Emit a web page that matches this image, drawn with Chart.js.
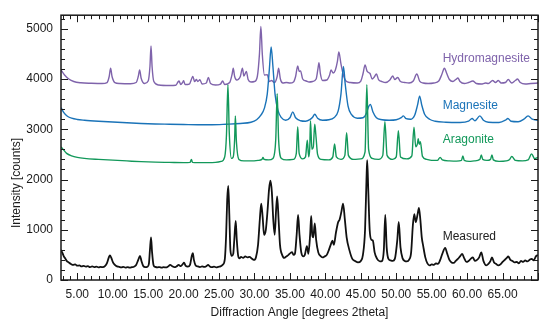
<!DOCTYPE html>
<html>
<head>
<meta charset="utf-8">
<script src="https://cdn.jsdelivr.net/npm/chart.js@4.4.1/dist/chart.umd.min.js"></script>
<style>
    body { margin: 0; background: #fff; }
    canvas { display: block; }
</style>
</head>
<body>
<canvas id="xrd" width="550" height="326"></canvas>
<script>
// Axis ticks
const xTicks = [5, 10, 15, 20, 25, 30, 35, 40, 45, 50, 55, 60, 65];
const yTicks = [0, 1000, 2000, 3000, 4000, 5000];

// Hydromagnesite reference pattern (2theta, counts)
const hydroX = [2.7, 3.2, 3.8, 4.5, 5.5, 7, 8.5, 9.2, 9.5, 9.7, 9.9, 10.3, 11, 12.5, 13.3, 13.6, 13.8, 14.0, 14.5, 15.0, 15.25, 15.4, 15.55, 15.8, 16.5, 18, 18.9, 19.2, 19.35, 19.6, 19.85, 20.0, 20.2, 20.8, 21.2, 21.3, 21.55, 21.8, 22.0, 22.3, 22.6, 23.2, 23.5, 23.8, 24.5, 25.2, 25.5, 25.8, 26.5, 26.85, 27.0, 27.2, 27.5, 27.7, 28.0, 28.3, 28.5, 28.85, 29.1, 29.5, 30.0, 30.4, 30.7, 30.9, 31.1, 31.4, 31.8, 32.1, 32.4, 32.8, 33.2, 33.4, 33.65, 34, 34.5, 35.0, 35.5, 35.8, 36.1, 36.3, 36.5, 36.8, 37.3, 37.7, 38.2, 38.7, 38.95, 39.1, 39.3, 39.6, 40.2, 40.6, 40.8, 41.1, 41.4, 41.7, 41.9, 42.2, 42.5, 42.9, 43.5, 44.5, 45.0, 45.3, 45.6, 45.9, 46.3, 46.6, 46.9, 47.2, 47.5, 48, 48.5, 49.1, 49.5, 49.8, 50.2, 50.6, 51.2, 51.8, 52.4, 52.9, 53.3, 53.8, 54.5, 55.3, 56.0, 56.4, 56.8, 57.1, 57.5, 58.0, 58.4, 58.7, 59.0, 59.6, 60.2, 60.8, 61.3, 62.0, 62.6, 63.0, 63.6, 64.0, 64.4, 64.8, 65.4, 65.8, 66.3, 66.8, 67.1, 67.5, 68.2, 69.0, 70.0];
const hydroY = [4180, 4080, 4000, 3950, 3925, 3915, 3910, 3930, 4050, 4215, 4050, 3930, 3910, 3905, 3930, 4050, 4180, 4020, 3910, 3960, 4250, 4660, 4250, 3950, 3880, 3870, 3875, 3940, 3960, 3890, 3930, 3965, 3890, 3900, 4030, 4050, 3950, 3990, 3950, 3985, 3900, 3920, 4030, 3910, 3880, 3900, 3960, 3890, 3930, 4100, 4215, 4050, 3980, 3990, 4050, 4215, 4060, 4150, 3990, 3940, 3950, 4050, 4500, 5045, 4500, 4080, 4085, 3950, 3970, 3930, 4050, 4215, 4000, 3920, 3930, 3920, 3940, 4050, 4260, 4150, 4160, 4000, 3960, 3940, 3950, 4000, 4200, 4325, 4100, 3970, 3980, 4080, 4180, 4120, 4175, 4350, 4540, 4300, 4100, 3960, 3930, 3920, 3960, 4100, 4280, 4150, 4110, 4000, 4040, 4100, 3990, 3950, 3930, 3980, 4060, 3990, 4030, 3950, 3930, 3920, 3960, 4100, 3960, 3920, 3910, 3920, 3960, 4080, 4215, 4120, 3990, 3950, 3990, 4020, 3950, 3910, 3930, 3960, 3910, 3900, 3920, 3910, 3970, 3930, 3970, 3920, 3930, 3990, 3920, 3970, 4000, 3930, 3900, 3910, 3920];

// Magnesite reference pattern
const magX = [2.7, 3.1, 3.6, 4.2, 5, 6, 8, 10, 12, 14, 16, 18, 20, 22, 24, 26, 28, 29.5, 30.3, 30.9, 31.4, 31.8, 32.1, 32.35, 32.6, 32.9, 33.3, 33.8, 34.4, 35.0, 35.4, 35.8, 36.5, 37.2, 37.8, 38.2, 38.5, 38.9, 39.6, 40.5, 41.2, 41.8, 42.2, 42.55, 42.8, 43.2, 43.7, 44.5, 45.3, 45.8, 46.1, 46.35, 46.7, 47.2, 48, 49, 50, 50.7, 51.0, 51.4, 52.0, 52.6, 53.0, 53.3, 53.6, 54.0, 54.7, 55.5, 57, 59, 60.2, 60.7, 61.1, 61.8, 62.3, 63, 64.5, 65.4, 65.75, 66.2, 67.2, 68.0, 68.6, 69.2, 70];
const magY = [3430, 3330, 3260, 3220, 3195, 3180, 3160, 3145, 3130, 3115, 3105, 3100, 3095, 3090, 3090, 3100, 3115, 3140, 3190, 3280, 3420, 3700, 4200, 4640, 4250, 3700, 3380, 3230, 3180, 3230, 3345, 3230, 3170, 3160, 3190, 3240, 3300, 3220, 3180, 3190, 3230, 3360, 3700, 4250, 3900, 3460, 3290, 3220, 3230, 3320, 3450, 3495, 3350, 3230, 3190, 3180, 3190, 3230, 3267, 3210, 3200, 3280, 3480, 3660, 3480, 3300, 3200, 3160, 3140, 3135, 3160, 3215, 3170, 3267, 3180, 3140, 3135, 3180, 3215, 3160, 3150, 3200, 3267, 3200, 3180];

// Aragonite reference pattern
const aragX = [2.7, 3.0, 3.5, 4.2, 5, 6, 8, 10, 12, 14, 16, 18, 20, 20.9, 21.1, 21.25, 22, 23.5, 24.5, 25.3, 25.8, 26.05, 26.25, 26.45, 26.75, 27.0, 27.2, 27.3, 27.45, 27.8, 28.5, 29.5, 30.5, 31.05, 31.2, 31.35, 32.0, 32.6, 33.0, 33.2, 33.4, 33.8, 34.5, 35.5, 35.9, 36.1, 36.3, 36.8, 37.2, 37.45, 37.65, 37.8, 37.9, 38.1, 38.3, 38.5, 38.65, 38.9, 39.4, 40.5, 41.05, 41.3, 41.55, 42.2, 42.75, 43.0, 43.25, 44.0, 45.0, 45.6, 45.85, 46.1, 46.6, 47.5, 48.1, 48.4, 48.7, 49.5, 50.0, 50.3, 50.6, 51.5, 52.2, 52.5, 52.75, 53.0, 53.1, 53.25, 53.4, 53.7, 54.3, 55.0, 55.8, 56.2, 56.5, 57.5, 58.5, 59.2, 59.4, 59.6, 60.3, 61.0, 61.8, 62.0, 62.2, 62.8, 63.3, 63.5, 63.7, 64.5, 65.5, 66.0, 66.3, 66.8, 67.8, 68.6, 69.1, 69.5, 70];
const aragY = [2650, 2600, 2520, 2470, 2440, 2420, 2400, 2385, 2370, 2355, 2345, 2340, 2335, 2340, 2400, 2340, 2335, 2335, 2340, 2360, 2450, 2900, 3887, 2900, 2420, 2450, 2800, 3267, 2750, 2400, 2370, 2370, 2380, 2400, 2440, 2400, 2390, 2420, 2800, 3710, 2800, 2420, 2390, 2400, 2520, 3050, 2520, 2410, 2450, 2780, 2450, 2650, 3170, 2600, 2650, 3100, 2900, 2500, 2400, 2390, 2450, 2710, 2450, 2400, 2480, 2930, 2480, 2400, 2410, 2550, 3887, 2600, 2420, 2400, 2480, 3150, 2480, 2400, 2450, 2970, 2450, 2410, 2470, 3040, 2650, 2720, 2810, 2700, 2750, 2460, 2400, 2380, 2380, 2440, 2390, 2370, 2365, 2380, 2470, 2380, 2360, 2370, 2400, 2490, 2400, 2380, 2400, 2490, 2390, 2360, 2370, 2400, 2460, 2380, 2370, 2390, 2510, 2420, 2440];

// Measured sample pattern
const measX = [2.7, 2.9, 3.1, 3.3, 3.5, 3.8, 4.1, 4.4, 4.7, 5.0, 5.3, 5.6, 5.9, 6.2, 6.5, 6.8, 7.1, 7.4, 7.7, 8.0, 8.3, 8.6, 8.9, 9.2, 9.45, 9.6, 9.8, 10.0, 10.3, 10.6, 10.9, 11.2, 11.5, 11.8, 12.1, 12.4, 12.7, 13.0, 13.3, 13.6, 13.85, 14.05, 14.3, 14.6, 14.9, 15.1, 15.25, 15.4, 15.55, 15.75, 16.0, 16.3, 16.6, 16.9, 17.2, 17.5, 17.8, 18.1, 18.4, 18.7, 19.0, 19.3, 19.6, 19.9, 20.05, 20.3, 20.6, 20.9, 21.15, 21.3, 21.45, 21.7, 22.0, 22.3, 22.6, 22.9, 23.2, 23.45, 23.7, 24.0, 24.3, 24.6, 24.9, 25.2, 25.5, 25.8, 26.0, 26.15, 26.3, 26.45, 26.6, 26.8, 27.0, 27.15, 27.35, 27.5, 27.7, 27.9, 28.1, 28.4, 28.7, 29.0, 29.3, 29.6, 29.9, 30.2, 30.5, 30.75, 30.95, 31.15, 31.35, 31.6, 31.85, 32.05, 32.25, 32.45, 32.65, 32.85, 33.05, 33.2, 33.4, 33.6, 33.9, 34.2, 34.5, 34.8, 35.1, 35.3, 35.5, 35.7, 35.95, 36.15, 36.35, 36.6, 36.9, 37.1, 37.4, 37.6, 37.85, 38.0, 38.15, 38.3, 38.5, 38.7, 39.0, 39.3, 39.6, 39.9, 40.2, 40.5, 40.8, 41.0, 41.2, 41.5, 41.8, 42.0, 42.25, 42.5, 42.75, 43.0, 43.4, 43.8, 44.2, 44.6, 45.0, 45.3, 45.6, 45.8, 45.9, 46.05, 46.25, 46.5, 46.7, 46.95, 47.3, 47.7, 48.0, 48.25, 48.45, 48.65, 48.9, 49.2, 49.5, 49.8, 50.15, 50.35, 50.6, 50.9, 51.2, 51.5, 51.8, 52.1, 52.35, 52.55, 52.75, 53.0, 53.2, 53.4, 53.6, 53.8, 54.1, 54.4, 54.7, 55.0, 55.3, 55.6, 55.9, 56.2, 56.5, 56.9, 57.2, 57.5, 57.8, 58.1, 58.4, 58.7, 59.0, 59.3, 59.6, 59.9, 60.2, 60.5, 60.8, 61.1, 61.4, 61.7, 62.0, 62.3, 62.7, 63.0, 63.3, 63.5, 63.8, 64.1, 64.4, 64.7, 65.0, 65.3, 65.6, 65.8, 66.1, 66.4, 66.7, 67.0, 67.3, 67.6, 67.9, 68.2, 68.5, 68.8, 69.1, 69.4, 69.7, 70.0];
const measY = [600, 540, 470, 430, 380, 350, 320, 300, 310, 285, 290, 270, 280, 265, 275, 255, 270, 255, 265, 250, 262, 255, 275, 340, 450, 490, 440, 360, 300, 270, 262, 250, 262, 248, 258, 245, 255, 265, 300, 400, 480, 380, 280, 255, 265, 320, 600, 850, 550, 300, 260, 250, 258, 245, 255, 250, 268, 300, 275, 255, 270, 300, 275, 320, 345, 280, 265, 300, 480, 535, 400, 290, 270, 258, 270, 260, 275, 300, 270, 255, 265, 250, 262, 270, 300, 400, 900, 1600, 1875, 1300, 600, 480, 520, 800, 1176, 800, 480, 430, 460, 440, 470, 450, 460, 430, 400, 450, 700, 1200, 1520, 1250, 900, 1000, 1400, 1800, 1975, 1750, 1200, 900, 1400, 1665, 1200, 700, 500, 440, 470, 500, 540, 555, 500, 520, 900, 1295, 900, 550, 470, 500, 675, 520, 900, 1275, 900, 850, 1125, 800, 550, 480, 450, 470, 500, 600, 720, 785, 700, 950, 1150, 1200, 1350, 1520, 1200, 850, 590, 420, 380, 350, 380, 500, 1000, 2000, 2385, 1800, 1000, 800, 785, 550, 420, 370, 380, 600, 1295, 650, 420, 390, 380, 420, 800, 1155, 650, 430, 380, 370, 400, 550, 1100, 1310, 1150, 1300, 1435, 1200, 850, 680, 450, 330, 290, 310, 300, 330, 320, 400, 520, 640, 520, 400, 350, 340, 380, 420, 470, 520, 430, 360, 380, 420, 450, 380, 400, 450, 550, 380, 290, 320, 380, 450, 350, 320, 290, 310, 360, 400, 440, 470, 400, 380, 350, 360, 330, 380, 360, 390, 370, 400, 420, 390, 470, 500];

// pair up x and y arrays for a linear x axis
function toPoints(xs, ys) {
    return xs.map((x, i) => ({ x: x, y: ys[i] }));
}

const FONT = "'Liberation Sans', Arial, Helvetica, sans-serif";
const INK = '#1a1a1a';

// Series names drawn beside the curves (anchor in data units)
const seriesLabels = [
    { text: 'Hydromagnesite', color: '#7f63ab', at: [56.55, 4410] },
    { text: 'Magnesite', color: '#1a73b8', at: [56.55, 3470] },
    { text: 'Aragonite', color: '#12985a', at: [56.55, 2785] },
    { text: 'Measured', color: '#222', at: [56.55, 865] }
];

// Frame with inward ticks, axis title and the curve names
const decorations = {
    id: 'decorations',
    afterDraw(chart) {
        const ctx = chart.ctx;
        const a = chart.chartArea;
        const x = chart.scales.x;
        const y = chart.scales.y;
        ctx.save();
        ctx.strokeStyle = INK;
        ctx.lineWidth = 1;
        ctx.beginPath();
        for (let v = 3; v <= 70; v++) {
            const px = Math.round(x.getPixelForValue(v)) + 0.5;
            const len = v % 5 === 0 ? 7 : 4;
            ctx.moveTo(px, a.bottom); ctx.lineTo(px, a.bottom - len);
            ctx.moveTo(px, a.top); ctx.lineTo(px, a.top + len);
        }
        for (let v = 0; v <= 5200; v += 200) {
            const py = Math.round(y.getPixelForValue(v)) + 0.5;
            const len = v % 1000 === 0 ? 7 : 4;
            ctx.moveTo(a.left, py); ctx.lineTo(a.left + len, py);
            ctx.moveTo(a.right, py); ctx.lineTo(a.right - len, py);
        }
        ctx.stroke();
        ctx.lineWidth = 1.5;
        ctx.strokeRect(a.left, a.top, a.right - a.left, a.bottom - a.top);

        // y axis title sits a bit below the middle in the original
        ctx.fillStyle = INK;
        ctx.font = '12px ' + FONT;
        ctx.textAlign = 'center';
        ctx.textBaseline = 'middle';
        ctx.translate(17, 183);
        ctx.rotate(-Math.PI / 2);
        ctx.fillText('Intensity [counts]', 0, 0);
        ctx.restore();

        ctx.save();
        ctx.font = '12px ' + FONT;
        ctx.textAlign = 'left';
        ctx.textBaseline = 'middle';
        seriesLabels.forEach(function(l) {
            ctx.fillStyle = l.color;
            ctx.fillText(l.text, x.getPixelForValue(l.at[0]), y.getPixelForValue(l.at[1]));
        });
        ctx.restore();
    }
};

new Chart(document.getElementById('xrd').getContext('2d'), {
    type: 'line',
    data: {
        datasets: [
            { label: 'Aragonite', data: toPoints(aragX, aragY), borderColor: '#12985a', borderWidth: 1.4 },
            { label: 'Magnesite', data: toPoints(magX, magY), borderColor: '#1a73b8', borderWidth: 1.4 },
            { label: 'Hydromagnesite', data: toPoints(hydroX, hydroY), borderColor: '#7f63ab', borderWidth: 1.4 },
            { label: 'Measured', data: toPoints(measX, measY), borderColor: '#111', borderWidth: 1.8 }
        ]
    },
    options: {
        responsive: false,
        animation: false,
        layout: { padding: { top: 11, right: 12, left: 0, bottom: 0 } },
        elements: { point: { radius: 0 }, line: { cubicInterpolationMode: 'monotone' } },
        plugins: { legend: { display: false }, tooltip: { enabled: false } },
        scales: {
            x: {
                type: 'linear',
                min: 2.7,
                max: 70,
                grid: { display: false, drawTicks: false },
                border: { display: false },
                ticks: {
                    color: INK,
                    padding: 7,
                    maxRotation: 0,
                    font: { family: FONT, size: 12 },
                    callback: v => v.toFixed(2)
                },
                title: {
                    display: true,
                    text: 'Diffraction Angle [degrees 2theta]',
                    color: INK,
                    font: { family: FONT, size: 12 },
                    padding: { top: 0, bottom: 6 }
                },
                afterBuildTicks: s => { s.ticks = xTicks.map(v => ({ value: v })); },
                afterFit: s => { s.height = 46; }
            },
            y: {
                type: 'linear',
                min: 0,
                max: 5270,
                grid: { display: false, drawTicks: false },
                border: { display: false },
                ticks: {
                    color: INK,
                    padding: 8,
                    font: { family: FONT, size: 12 },
                    callback: v => String(v)
                },
                afterBuildTicks: s => { s.ticks = yTicks.map(v => ({ value: v })); },
                afterFit: s => { s.width = 61; }
            }
        }
    },
    plugins: [decorations]
});
</script>
</body>
</html>
